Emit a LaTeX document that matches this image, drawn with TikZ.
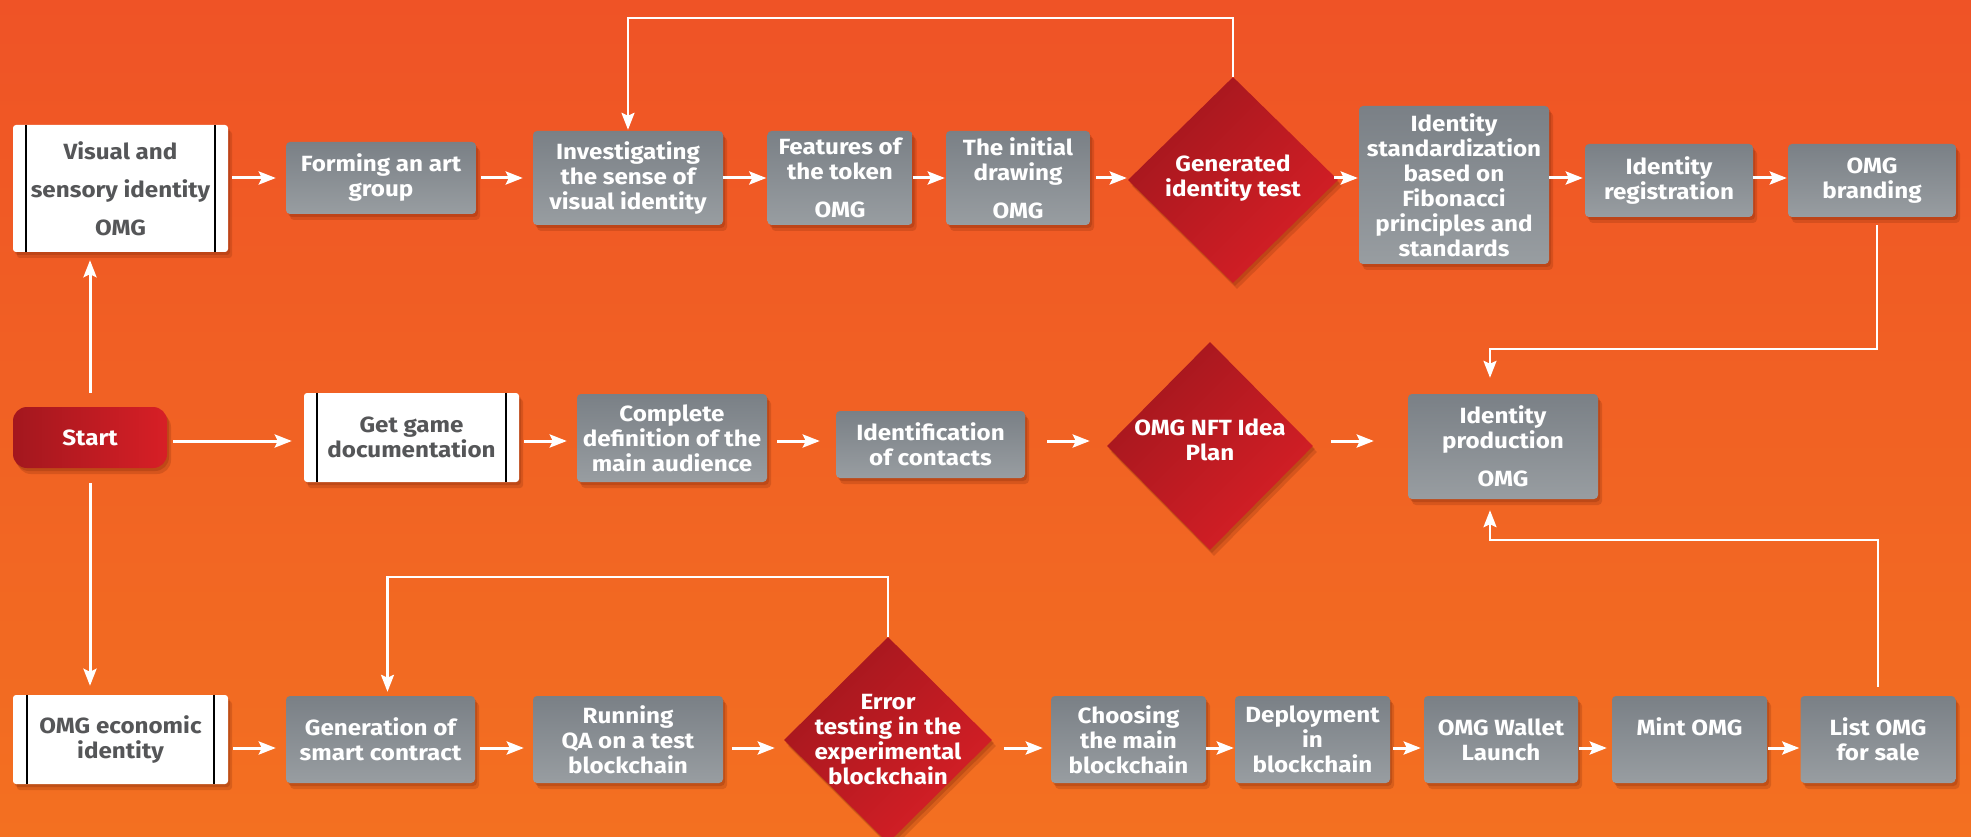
\documentclass[tikz,border=0pt]{standalone}
\usepackage{fontspec}
\setmainfont{Fira Sans}[FakeStretch=1.1]
\usetikzlibrary{arrows.meta,shapes.geometric,shadows}
\definecolor{bgtop}{HTML}{EF5326}
\definecolor{bgbot}{HTML}{F37021}
\definecolor{gtop}{HTML}{7A8086}
\definecolor{gbot}{HTML}{989DA1}
\definecolor{rdark}{HTML}{A3171E}
\definecolor{rlight}{HTML}{D71F26}
\definecolor{wtext}{HTML}{555658}
\definecolor{shad}{HTML}{7A2608}
\begin{document}
\begin{tikzpicture}[x=1pt,y=-1pt,
  txt/.style={font=\bfseries\fontsize{22}{25}\selectfont, align=center},
  softshadow/.style={general shadow={fill=shad, opacity=0.22, shadow xshift=4pt, shadow yshift=-6pt},
                     general shadow={fill=shad, opacity=0.25, shadow xshift=2pt, shadow yshift=-3pt}},
  gbox/.style={txt, text=white, rounded corners=4pt, top color=gtop, bottom color=gbot, inner sep=0pt, softshadow},
  wbox/.style={txt, text=wtext, fill=white, rounded corners=3pt, inner sep=0pt, softshadow},
  diam/.style={diamond, inner sep=0pt, left color=rdark, right color=rlight, shading angle=45, softshadow},
  dtext/.style={txt, text=white},
  bar/.style={draw=black, line width=2.5pt},
  arr/.style={draw=white, line width=3pt, -{Stealth[length=17pt,width=13pt,inset=3pt]}},
  loopa/.style={draw=white, line width=2.5pt, -{Stealth[length=17pt,width=13pt,inset=3pt]}}
]
% background
\fill[top color=bgtop, bottom color=bgbot] (0,0) rectangle (1971,837);
\useasboundingbox (0,0) rectangle (1971,837);

\coordinate (ya) at (0,178);
\coordinate (yb) at (0,441);
\coordinate (yc) at (0,748);
\coordinate (t1) at (0,18);
\coordinate (t2) at (0,577);
\coordinate (t3) at (0,349);
\coordinate (t4) at (0,540);

% ---------- top row
\node[wbox, minimum width=215pt, minimum height=127pt] (vis) at (120.5,188.5) {Visual and\\[13pt]sensory identity\\[13pt]OMG};
\draw[bar] ([xshift=13pt]vis.north west) -- ([xshift=13pt]vis.south west);
\draw[bar] ([xshift=-13pt]vis.north east) -- ([xshift=-13pt]vis.south east);
\node[gbox, minimum width=190pt, minimum height=72pt] (form) at (381,178) {Forming an art\\group};
\node[gbox, minimum width=190pt, minimum height=94pt] (inv) at (628,178) {Investigating\\the sense of\\visual identity};
\node[gbox, minimum width=145pt, minimum height=94pt] (feat) at (840,178) {Features of\\the token\\[13pt]OMG};
\node[gbox, minimum width=144pt, minimum height=94pt] (init) at (1018,178) {The initial\\drawing\\[13pt]OMG};
\node[diam, minimum width=210pt, minimum height=206pt] (gen) at (1233,180) {};
\node[dtext] (gent) at (1233,178) {Generated\\identity test};
\node[gbox, minimum width=190pt, minimum height=158pt] (std) at (1454,185) {Identity\\standardization\\based on\\Fibonacci\\principles and\\standards};
\node[gbox, minimum width=168pt, minimum height=73pt] (reg) at (1669,180.5) {Identity\\registration};
\node[gbox, minimum width=168pt, minimum height=73pt] (brand) at (1872,180.5) {OMG\\branding};

% ---------- middle row
\node[txt, text=white, rounded corners=14pt, left color=rdark, right color=rlight, minimum width=154pt, minimum height=61pt, inner sep=0pt, softshadow] (start) at (90,437.5) {Start};
\node[wbox, minimum width=215pt, minimum height=89pt] (get) at (411.5,437.5) {Get game\\documentation};
\draw[bar] ([xshift=13pt]get.north west) -- ([xshift=13pt]get.south west);
\draw[bar] ([xshift=-13pt]get.north east) -- ([xshift=-13pt]get.south east);
\node[gbox, minimum width=190pt, minimum height=88pt] (comp) at (672,438) {Complete\\definition of the\\main audience};
\node[gbox, minimum width=189pt, minimum height=67pt] (ident) at (930.5,444.5) {Identification\\of contacts};
\node[diam, minimum width=206pt, minimum height=208pt] (nft) at (1210,446) {};
\node[dtext] (nftt) at (1210,440) {OMG NFT Idea\\Plan};
\node[gbox, minimum width=190pt, minimum height=105pt] (prod) at (1503,446.5) {Identity\\production\\[13pt]OMG};

% ---------- bottom row
\node[wbox, minimum width=215pt, minimum height=89pt] (econ) at (120.5,739.5) {OMG economic\\identity};
\draw[bar] ([xshift=14pt]econ.north west) -- ([xshift=14pt]econ.south west);
\draw[bar] ([xshift=-14pt]econ.north east) -- ([xshift=-14pt]econ.south east);
\node[gbox, minimum width=189pt, minimum height=87pt] (gsc) at (380.5,739.5) {Generation of\\smart contract};
\node[gbox, minimum width=190pt, minimum height=87pt] (qa) at (628,739.5) {Running\\QA on a test\\blockchain};
\node[diam, minimum width=208pt, minimum height=206pt] (err) at (888,740) {};
\node[dtext] (errt) at (888,740) {Error\\testing in the\\experimental\\blockchain};
\node[gbox, minimum width=155pt, minimum height=87pt] (choose) at (1128.5,739.5) {Choosing\\the main\\blockchain};
\node[gbox, minimum width=155pt, minimum height=87pt] (deploy) at (1312.5,739.5) {Deployment\\in\\blockchain};
\node[gbox, minimum width=154pt, minimum height=87pt] (wallet) at (1501,739.5) {OMG Wallet\\Launch};
\node[gbox, minimum width=155pt, minimum height=87pt] (mint) at (1689.5,739.5) {Mint OMG\\\phantom{M}};
\node[gbox, minimum width=155pt, minimum height=87pt] (list) at (1878,739.5) {List OMG\\for sale};

% ---------- connectors, top row
\draw[arr, shorten <=4pt, shorten >=10pt] (vis.east |- ya) -- (form.west |- ya);
\draw[arr, shorten <=5pt, shorten >=10pt] (form.east |- ya) -- (inv.west |- ya);
\draw[arr, shorten >=1pt] (inv.east |- ya) -- (feat.west |- ya);
\draw[arr, shorten >=1pt] (feat.east |- ya) -- (init.west |- ya);
\draw[arr, shorten <=6pt, shorten >=1pt] (init.east |- ya) -- (gen.west |- ya);
\draw[arr, shorten <=-4pt, shorten >=1pt] (gen.east |- ya) -- (std.west |- ya);
\draw[arr, shorten >=2pt] (std.east |- ya) -- (reg.west |- ya);
\draw[arr, shorten >=1pt] (reg.east |- ya) -- (brand.west |- ya);
\draw[loopa, shorten >=1pt] (gen.north) -- (gen.north |- t1) -| (inv.north);

% ---------- middle row
\draw[arr, shorten <=6pt, shorten >=12pt] (start.east |- yb) -- (get.west |- yb);
\draw[arr, shorten <=5pt, shorten >=10pt] (get.east |- yb) -- (comp.west |- yb);
\draw[arr, shorten <=10pt, shorten >=16pt] (comp.east |- yb) -- (ident.west |- yb);
\draw[arr, shorten <=22pt, shorten >=17pt] (ident.east |- yb) -- (nft.west |- yb);
\draw[arr, shorten <=18pt, shorten >=34pt] (nft.east |- yb) -- (prod.west |- yb);
\draw[arr, shorten <=14pt, shorten >=8pt] (start.north) -- (start.north |- vis.south);
\draw[arr, shorten <=15pt, shorten >=9pt] (start.south) -- (start.south |- econ.north);
\draw[loopa, shorten <=8pt, shorten >=16pt] ([xshift=5pt]brand.south) -- ([xshift=5pt]brand.south |- t3) -| ([xshift=-13pt]prod.north);
\draw[loopa, shorten <=9pt, shorten >=11pt] (list.north) -- (list.north |- t4) -| ([xshift=-13pt]prod.south);

% ---------- bottom row
\draw[arr, shorten <=5pt, shorten >=10pt] (econ.east |- yc) -- (gsc.west |- yc);
\draw[arr, shorten <=5pt, shorten >=9pt] (gsc.east |- yc) -- (qa.west |- yc);
\draw[arr, shorten <=9pt, shorten >=9pt] (qa.east |- yc) -- (err.west |- yc);
\draw[arr, shorten <=12pt, shorten >=8pt] (err.east |- yc) -- (choose.west |- yc);
\draw[arr, shorten >=1pt] (choose.east |- yc) -- (deploy.west |- yc);
\draw[arr, shorten <=3pt, shorten >=3pt] (deploy.east |- yc) -- (wallet.west |- yc);
\draw[arr, shorten <=1pt, shorten >=5pt] (wallet.east |- yc) -- (mint.west |- yc);
\draw[arr, shorten <=1pt, shorten >=1pt] (mint.east |- yc) -- (list.west |- yc);
\draw[loopa, shorten >=4pt] (err.north) -- (err.north |- t2) -| ([xshift=7pt]gsc.north);
\end{tikzpicture}
\end{document}
